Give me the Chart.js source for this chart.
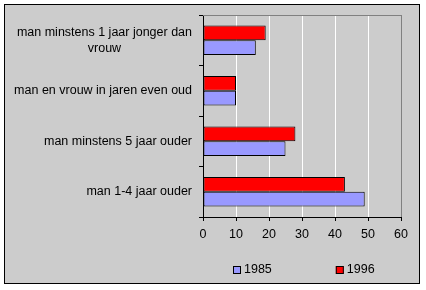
<!DOCTYPE html>
<html>
<head>
<meta charset="utf-8">
<script src="https://cdn.jsdelivr.net/npm/chart.js@4"></script>
<style>
  body { margin: 0; background: #fff; }
  canvas { display: block; }
</style>
</head>
<body>
<canvas id="chart" width="426" height="290"></canvas>
<script>
// Categories, top to bottom (multi-line labels as arrays)
const categories = [
  ['man minstens 1 jaar jonger dan', 'vrouw'],
  ['man en vrouw in jaren even oud'],
  ['man minstens 5 jaar ouder'],
  ['man 1-4 jaar ouder']
];
const values1996 = [19, 10, 28, 43];
const values1985 = [16, 10, 25, 49];
const xTicks = [0, 10, 20, 30, 40, 50, 60];

const FONT = 'Arial, "Liberation Sans", sans-serif';
const FSIZE = 12.5;
Chart.defaults.font.family = FONT;
Chart.defaults.font.size = FSIZE;
Chart.defaults.color = '#000';

// Grey panel with black outline behind everything
const framePlugin = {
  id: 'frame',
  beforeDraw(chart) {
    const ctx = chart.ctx;
    ctx.save();
    ctx.fillStyle = '#fff';
    ctx.fillRect(0, 0, chart.width, chart.height);
    ctx.fillStyle = '#cccccc';
    ctx.fillRect(4, 4, 416, 280);
    ctx.strokeStyle = '#000';
    ctx.lineWidth = 1;
    ctx.strokeRect(4.5, 4.5, 415, 279);
    ctx.restore();
  }
};

// Grey top edge of the plot area
const plotTopPlugin = {
  id: 'plotTop',
  beforeDatasetsDraw(chart) {
    const { ctx, chartArea } = chart;
    ctx.save();
    ctx.strokeStyle = '#808080';
    ctx.lineWidth = 1;
    ctx.beginPath();
    ctx.moveTo(chartArea.left, chartArea.top + 0.5);
    ctx.lineTo(chartArea.right + 1, chartArea.top + 0.5);
    ctx.stroke();
    ctx.restore();
  }
};

// Category labels: right aligned block, lines centred within the block
const catLabelsPlugin = {
  id: 'catLabels',
  afterDraw(chart) {
    const { ctx, chartArea } = chart;
    const scale = chart.scales.y;
    const right = chartArea.left - 11;
    ctx.save();
    ctx.font = FSIZE + 'px ' + FONT;
    ctx.fillStyle = '#000';
    ctx.textAlign = 'center';
    ctx.textBaseline = 'middle';
    chart.data.labels.forEach((lab, i) => {
      const lines = Array.isArray(lab) ? lab : [lab];
      const w = Math.max(...lines.map(l => ctx.measureText(l).width));
      const cx = right - w / 2;
      const yc = scale.getPixelForTick(i);
      lines.forEach((l, j) => {
        ctx.fillText(l, cx, yc + (j - (lines.length - 1) / 2) * 16);
      });
    });
    ctx.restore();
  }
};

// Legend row under the plot (1985 first, as in the original)
const legendRowPlugin = {
  id: 'legendRow',
  afterDraw(chart) {
    const { ctx, chartArea } = chart;
    const items = chart.data.datasets.slice().reverse();
    const box = 8, gapText = 3, gapItem = 64, y = 270;
    ctx.save();
    ctx.font = FSIZE + 'px ' + FONT;
    ctx.textBaseline = 'middle';
    ctx.textAlign = 'left';
    const widths = items.map(d => box + gapText + ctx.measureText(d.label).width);
    const total = widths.reduce((a, b) => a + b, 0) + gapItem * (items.length - 1);
    let x = Math.round((chartArea.left + chartArea.right) / 2 - total / 2) + 2;
    items.forEach((d, i) => {
      ctx.fillStyle = d.backgroundColor;
      ctx.fillRect(x, y - 4, box, box);
      ctx.strokeStyle = '#000';
      ctx.lineWidth = 1;
      ctx.strokeRect(x + 0.5, y - 3.5, box - 1, box - 1);
      ctx.fillStyle = '#000';
      ctx.fillText(d.label, x + box + gapText, y);
      x += widths[i] + gapItem;
    });
    ctx.restore();
  }
};

new Chart(document.getElementById('chart'), {
  type: 'bar',
  data: {
    labels: categories,
    datasets: [
      {
        label: '1996',
        data: values1996,
        backgroundColor: '#ff0000',
        borderColor: '#000',
        borderWidth: 1,
        borderSkipped: false,
        categoryPercentage: 0.58,
        barPercentage: 1
      },
      {
        label: '1985',
        data: values1985,
        backgroundColor: '#9999ff',
        borderColor: '#000',
        borderWidth: 1,
        borderSkipped: false,
        categoryPercentage: 0.58,
        barPercentage: 1
      }
    ]
  },
  options: {
    indexAxis: 'y',
    responsive: false,
    animation: false,
    layout: { padding: { top: 15, right: 25, bottom: 0, left: 0 } },
    plugins: {
      legend: { display: false },
      tooltip: { enabled: false }
    },
    scales: {
      x: {
        min: xTicks[0],
        max: xTicks[xTicks.length - 1],
        ticks: {
          stepSize: xTicks[1] - xTicks[0],
          color: '#000',
          font: { size: FSIZE },
          padding: 6
        },
        grid: {
          color: c => {
            const v = c.tick ? c.tick.value : null;
            if (v === xTicks[0]) return '#000';
            if (v === xTicks[xTicks.length - 1]) return '#808080';
            return '#fff';
          },
          tickColor: '#000',
          tickLength: 4
        },
        border: { color: '#000' },
        afterFit: s => { s.height = 73; }
      },
      y: {
        ticks: { display: false },
        grid: {
          drawOnChartArea: false,
          drawTicks: true,
          tickLength: 4,
          tickColor: '#000',
          offset: true
        },
        border: { color: '#000' },
        afterFit: s => { s.width = 203; }
      }
    }
  },
  plugins: [framePlugin, plotTopPlugin, catLabelsPlugin, legendRowPlugin]
});
</script>
</body>
</html>
